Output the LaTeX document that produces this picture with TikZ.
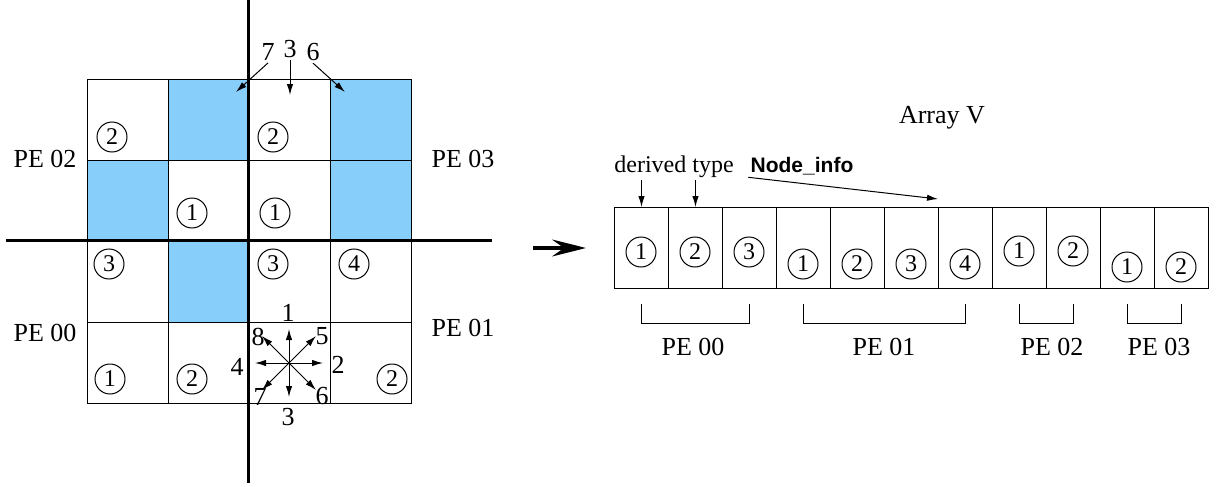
\documentclass[tikz,border=0pt]{standalone}
\usepackage{fontspec}
\setmainfont{Liberation Serif}
\newfontfamily\helvfont{Liberation Sans}
\usetikzlibrary{arrows.meta, positioning, calc}
\definecolor{cellblue}{RGB}{135,206,250}

\begin{document}
\begin{tikzpicture}[
    x=0.5pt, y=-0.5pt,
    every node/.style={font=\fontsize{13}{15}\selectfont, inner sep=1pt},
    cell/.style={rectangle, draw, line width=0.5pt, minimum width=40.5pt,
                 minimum height=40.5pt, inner sep=0pt, anchor=north west},
    slot/.style={rectangle, draw, line width=0.5pt, minimum width=27pt,
                 minimum height=40.5pt, inner sep=0pt, anchor=north west},
    num/.style={circle, draw, line width=0.5pt, minimum size=15pt, inner sep=0pt,
                font=\fontsize{12}{14}\selectfont},
    boundary/.style={line width=1.75pt},
    arr/.style={-{Latex[length=5.5pt, width=3.2pt]}, line width=0.5pt},
    bigarr/.style={-{Stealth[length=17pt, width=8.5pt, inset=6pt]}, line width=1.6pt},
    brace/.style={line width=0.5pt},
]
    \useasboundingbox (0,0) rectangle (1217,487);

    % decomposed mesh
    \foreach \r/\c in {0/1, 0/3, 1/0, 1/3, 2/1}
        \fill[cellblue] ({87+81*\c},{79+81*\r}) rectangle ++(81,81);
    \foreach \r in {0,...,3}
        \foreach \c in {0,...,3}
            \node[cell] (g\r\c) at ({87+81*\c},{79+81*\r}) {};

    \coordinate (vtop) at (248.5,0);
    \coordinate (vbot) at (248.5,483);
    \coordinate (hleft) at (6,240.5);
    \coordinate (hright) at (492,240.5);
    \draw[boundary] (vtop) -- (vbot);
    \draw[boundary] (hleft) -- (hright);

    \node (pe02) at (45,159) {PE 02};
    \node (pe03) at (463,159) {PE 03};
    \node (pe00) at (45,333) {PE 00};
    \node (pe01) at (463,328) {PE 01};

    % local node numbers
    \node[num] (m1) at (112,137) {2};
    \node[num] (m2) at (273,137) {2};
    \node[num] (m3) at (192,213) {1};
    \node[num] (m4) at (275,213) {1};
    \node[num] (m5) at (109,264) {3};
    \node[num] (m6) at (273,264) {3};
    \node[num] (m7) at (354,264) {4};
    \node[num] (m8) at (110,379) {1};
    \node[num] (m9) at (192,379) {2};
    \node[num] (m10) at (392,379) {2};

    % neighbours across the boundary
    \node (d7) at (268,52) {7};
    \node (d3) at (290,49) {3};
    \node (d6) at (313,52) {6};
    \coordinate (t7) at (236,92);
    \coordinate (t3) at (290,95);
    \coordinate (t6) at (345,92);
    \draw[arr] (d7.south) -- (t7);
    \draw[arr] (d3.south) -- (t3);
    \draw[arr] (d6.south) -- (t6);

    % eight directions
    \coordinate (sc) at (289,363);
    \foreach \k/\dx/\dy in {1/0/-34, 2/34/0, 3/0/34, 4/-34/0,
                            5/27/-27, 6/27/27, 7/-27/27, 8/-27/-27}
        \coordinate (s\k) at ($(sc)+(\dx,\dy)$);
    \foreach \k in {1,...,8}
        \draw[arr] (sc) -- (s\k);
    \node (w1) at (288,313) {1};
    \node (w2) at (338,365) {2};
    \node (w3) at (288,417) {3};
    \node (w4) at (237,367) {4};
    \node (w5) at (322,336) {5};
    \node (w6) at (322,396) {6};
    \node (w7) at (260,397) {7};
    \node (w8) at (258,337) {8};

    \coordinate (a1) at (533,248);
    \coordinate (a2) at (586,248);
    \draw[bigarr] (a1) -- (a2);

    % array V
    \node (title) at (942,118) {Array V};
    \foreach \i in {0,...,10}
        \node[slot] (v\i) at ({614+54*\i},207) {};
    \foreach \i/\n/\y in {0/1/252, 1/2/252, 2/3/252, 3/1/264, 4/2/264, 5/3/264,
                          6/4/264, 7/1/251, 8/2/251, 9/1/267, 10/2/267}
        \node[num] (c\i) at ({641+54*\i},\y) {\n};

    \node[font=\fontsize{12}{14}\selectfont] (dt) at (674,167) {derived type};
    \node[font=\helvfont\bfseries\fontsize{10.5}{12}\selectfont] (ni) at (802,166) {Node\_info};
    \coordinate (nit) at (938,199);
    \draw[arr] (v0.north |- dt.south) -- (v0.north);
    \draw[arr] (v1.north |- dt.south) -- (v1.north);
    \draw[arr] (ni.south west) -- (nit);

    % owners
    \foreach \a/\b in {0/2, 3/6, 7/8, 9/10}
        \draw[brace] ($(v\a.south)+(0,15)$) -- ++(0,19) -| ($(v\b.south)+(0,15)$);
    \node (o00) at (693,347) {PE 00};
    \node (o01) at (884,347) {PE 01};
    \node (o02) at (1052,347) {PE 02};
    \node (o03) at (1159,347) {PE 03};
\end{tikzpicture}
\end{document}
